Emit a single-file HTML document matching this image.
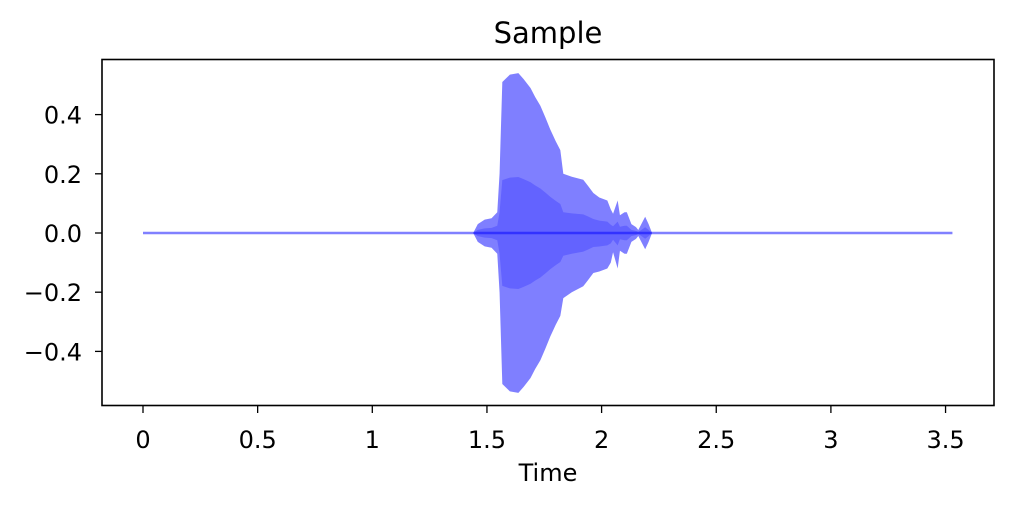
<!DOCTYPE html>
<html><head><meta charset="utf-8"><style>
body{margin:0;background:#fff;}
svg{display:block;font-family:"DejaVu Sans","Liberation Sans",sans-serif;}
</style></head><body>
<svg id="chart" width="1014" height="507">
<rect width="1014" height="507" fill="#fff"/>
<text x="548" y="43" font-size="29" text-anchor="middle">Sample</text>
<g id="marks"></g>
<g id="axes"></g>
<rect x="102" y="59.5" width="892" height="346" fill="none" stroke="#000" stroke-width="1.6"/>
<text x="548" y="481" font-size="24" text-anchor="middle">Time</text>
</svg>
<script>
const times = [1.44,1.46,1.49,1.52,1.545,1.555,1.567,1.6,1.637,1.66,1.69,1.71,1.733,1.755,1.776,1.8,1.82,1.833,1.87,1.92,1.94,1.964,1.99,2.025,2.04,2.05,2.07,2.08,2.1,2.11,2.13,2.15,2.16,2.18,2.19,2.205,2.22];
const upper = [0.0,0.03,0.045,0.05,0.07,0.2,0.51,0.535,0.54,0.52,0.49,0.46,0.43,0.39,0.35,0.31,0.28,0.2,0.19,0.18,0.16,0.135,0.12,0.11,0.08,0.065,0.11,0.06,0.07,0.07,0.03,0.02,0.01,0.04,0.055,0.03,0.0];
const lower = [0.0,-0.03,-0.045,-0.05,-0.07,-0.2,-0.51,-0.535,-0.54,-0.52,-0.49,-0.46,-0.43,-0.39,-0.35,-0.31,-0.28,-0.22,-0.2,-0.18,-0.16,-0.135,-0.13,-0.12,-0.1,-0.065,-0.12,-0.06,-0.07,-0.07,-0.03,-0.02,-0.01,-0.04,-0.055,-0.03,0.0];
const xTicks = [0,0.5,1,1.5,2,2.5,3,3.5];
const xTickLabels = ["0","0.5","1","1.5","2","2.5","3","3.5"];
const yTicks = [0.4,0.2,0,-0.2,-0.4];
const yTickLabels = ["0.4","0.2","0.0","\u22120.2","\u22120.4"];
const duration = 3.53;

const X = t => 143 + t*229.3;
const Y = v => 233 - v*296;
const NS = "http://www.w3.org/2000/svg";
const marks = document.getElementById('marks');
const axes = document.getElementById('axes');

const base = document.createElementNS(NS,'line');
base.setAttribute('x1',X(0));base.setAttribute('x2',X(duration));
base.setAttribute('y1',Y(0));base.setAttribute('y2',Y(0));
base.setAttribute('stroke','#8080ff');base.setAttribute('stroke-width','2.5');


marks.appendChild(base);

function envelope(scale, opacity, name){
  let d = '';
  times.forEach((t,i)=>{ d += (i?'L':'M') + X(t) + ',' + Y(upper[i]*scale); });
  for(let i=times.length-1;i>=0;i--){ d += 'L' + X(times[i]) + ',' + Y(lower[i]*scale); }
  const p = document.createElementNS(NS,'path');
  p.setAttribute('d', d + 'Z');
  p.setAttribute('fill','#0000ff');
  p.setAttribute('fill-opacity',opacity);
  
  
  marks.appendChild(p);
}
envelope(1, 0.5, 'waveform-envelope');
envelope(0.35, 0.22, 'waveform-core');

xTicks.forEach((v,i)=>{
  const l = document.createElementNS(NS,'line');
  l.setAttribute('x1',X(v));l.setAttribute('x2',X(v));l.setAttribute('y1',406);l.setAttribute('y2',413);
  l.setAttribute('stroke','#000');l.setAttribute('stroke-width','1.3');
  
  
  axes.appendChild(l);
  const t = document.createElementNS(NS,'text');
  t.setAttribute('x',X(v));t.setAttribute('y',448);t.setAttribute('font-size','24');t.setAttribute('text-anchor','middle');
  t.textContent = xTickLabels[i];
  
  
  axes.appendChild(t);
});
yTicks.forEach((v,i)=>{
  const l = document.createElementNS(NS,'line');
  l.setAttribute('x1',95);l.setAttribute('x2',102);l.setAttribute('y1',Y(v));l.setAttribute('y2',Y(v));
  l.setAttribute('stroke','#000');l.setAttribute('stroke-width','1.3');
  
  
  axes.appendChild(l);
  const t = document.createElementNS(NS,'text');
  t.setAttribute('x',82);t.setAttribute('y',Y(v)+9);t.setAttribute('font-size','24');t.setAttribute('text-anchor','end');
  t.textContent = yTickLabels[i];
  
  
  axes.appendChild(t);
});
</script>
</body></html>
